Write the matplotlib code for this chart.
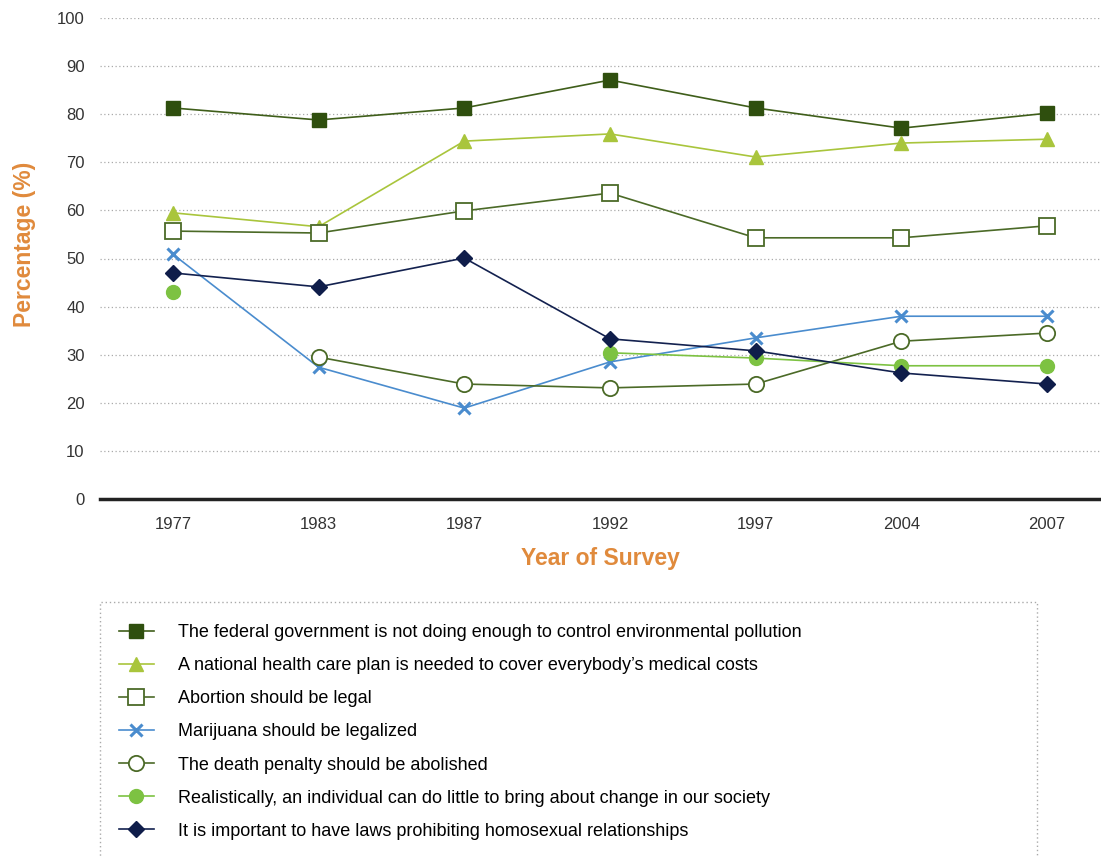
import numpy as np
import matplotlib.pyplot as plt
from matplotlib.patches import Rectangle

plt.rcParams['font.family'] = ['Liberation Sans', 'DejaVu Sans']

years = ["1977", "1983", "1987", "1992", "1997", "2004", "2007"]

pollution = [81.3, 78.8, 81.3, 87.1, 81.3, 77.1, 80.2]
health_care = [59.5, 56.6, 74.4, 75.9, 71.1, 74.0, 74.8]
abortion = [55.7, 55.3, 59.9, 63.6, 54.3, 54.3, 56.8]
marijuana = [50.9, 27.4, 18.9, 28.5, 33.5, 38.0, 38.0]
death_penalty = [np.nan, 29.5, 23.9, 23.1, 23.9, 32.8, 34.5]
little_change = [43.0, np.nan, np.nan, 30.4, 29.3, 27.7, 27.7]
homosexual = [47.0, 44.1, 50.1, 33.3, 30.8, 26.2, 23.9]

labels = [
    "The federal government is not doing enough to control environmental pollution",
    "A national health care plan is needed to cover everybody\u2019s medical costs",
    "Abortion should be legal",
    "Marijuana should be legalized",
    "The death penalty should be abolished",
    "Realistically, an individual can do little to bring about change in our society",
    "It is important to have laws prohibiting homosexual relationships",
]

fig = plt.figure(figsize=(11.01, 8.58), dpi=100)
ax = fig.add_axes([100 / 1101, 1 - 499 / 858, 1001 / 1101, 481 / 858])

x = np.arange(len(years))
olive = "#4b6a27"

styles = [
    (pollution, dict(color="#3f5e1a", marker="s", ms=10, mfc="#2f4f0e", mec="#2f4f0e")),
    (health_care, dict(color="#a9c53c", marker="^", ms=10, mfc="#a9c53c", mec="#a9c53c")),
    (abortion, dict(color=olive, marker="s", ms=11, mfc="white", mec=olive, mew=1.3)),
    (marijuana, dict(color="#4a8cce", marker="x", ms=9, mew=2.2)),
    (death_penalty, dict(color=olive, marker="o", ms=11, mfc="white", mec=olive, mew=1.3)),
    (little_change, dict(color="#7dc242", marker="o", ms=10, mfc="#7dc242", mec="#7dc242")),
    (homosexual, dict(color="#13214f", marker="D", ms=8, mfc="#0f1d4a", mec="#0f1d4a")),
]

handles = []
for (vals, st), lab in zip(styles, labels):
    ln, = ax.plot(x, vals, lw=1.2, label=lab, **st)
    handles.append(ln)

ax.set_xlim(-0.5, 6.37)
ax.set_ylim(0, 100)
ax.set_yticks(range(0, 101, 10))
ax.set_xticks(x)
ax.set_xticklabels(years)
ax.grid(axis="y", linestyle=(0, (1, 2)), color="#aaaaaa", lw=0.9)
ax.set_axisbelow(True)
for s in ["top", "right", "left"]:
    ax.spines[s].set_visible(False)
ax.spines["bottom"].set_linewidth(2.5)
ax.spines["bottom"].set_color("#222222")
ax.tick_params(length=0, labelsize=12, colors="#333333")
ax.tick_params(axis="x", pad=13)
ax.tick_params(axis="y", pad=11)

ax.set_ylabel("Percentage (%)", color="#e08a3c", fontsize=16.5, fontweight="bold")
ax.yaxis.set_label_coords(-64 / 1001, 0.53)
ax.set_xlabel("Year of Survey", color="#e08a3c", fontsize=16.5, fontweight="bold", labelpad=11)

# legend box
fig.patches.append(Rectangle((100 / 1101, -0.05), 937 / 1101, 1 - 602 / 858 + 0.05,
                             transform=fig.transFigure, fill=False,
                             edgecolor="#aaaaaa", linestyle=(0, (1, 2)), lw=1))
fig.legend(handles=handles, loc="upper left", bbox_to_anchor=(112 / 1101, 1 - 617 / 858),
           frameon=False, fontsize=13, handlelength=1.9, handletextpad=1.35,
           labelspacing=0.89, borderaxespad=0)

fig.savefig("out.png", dpi=100)
